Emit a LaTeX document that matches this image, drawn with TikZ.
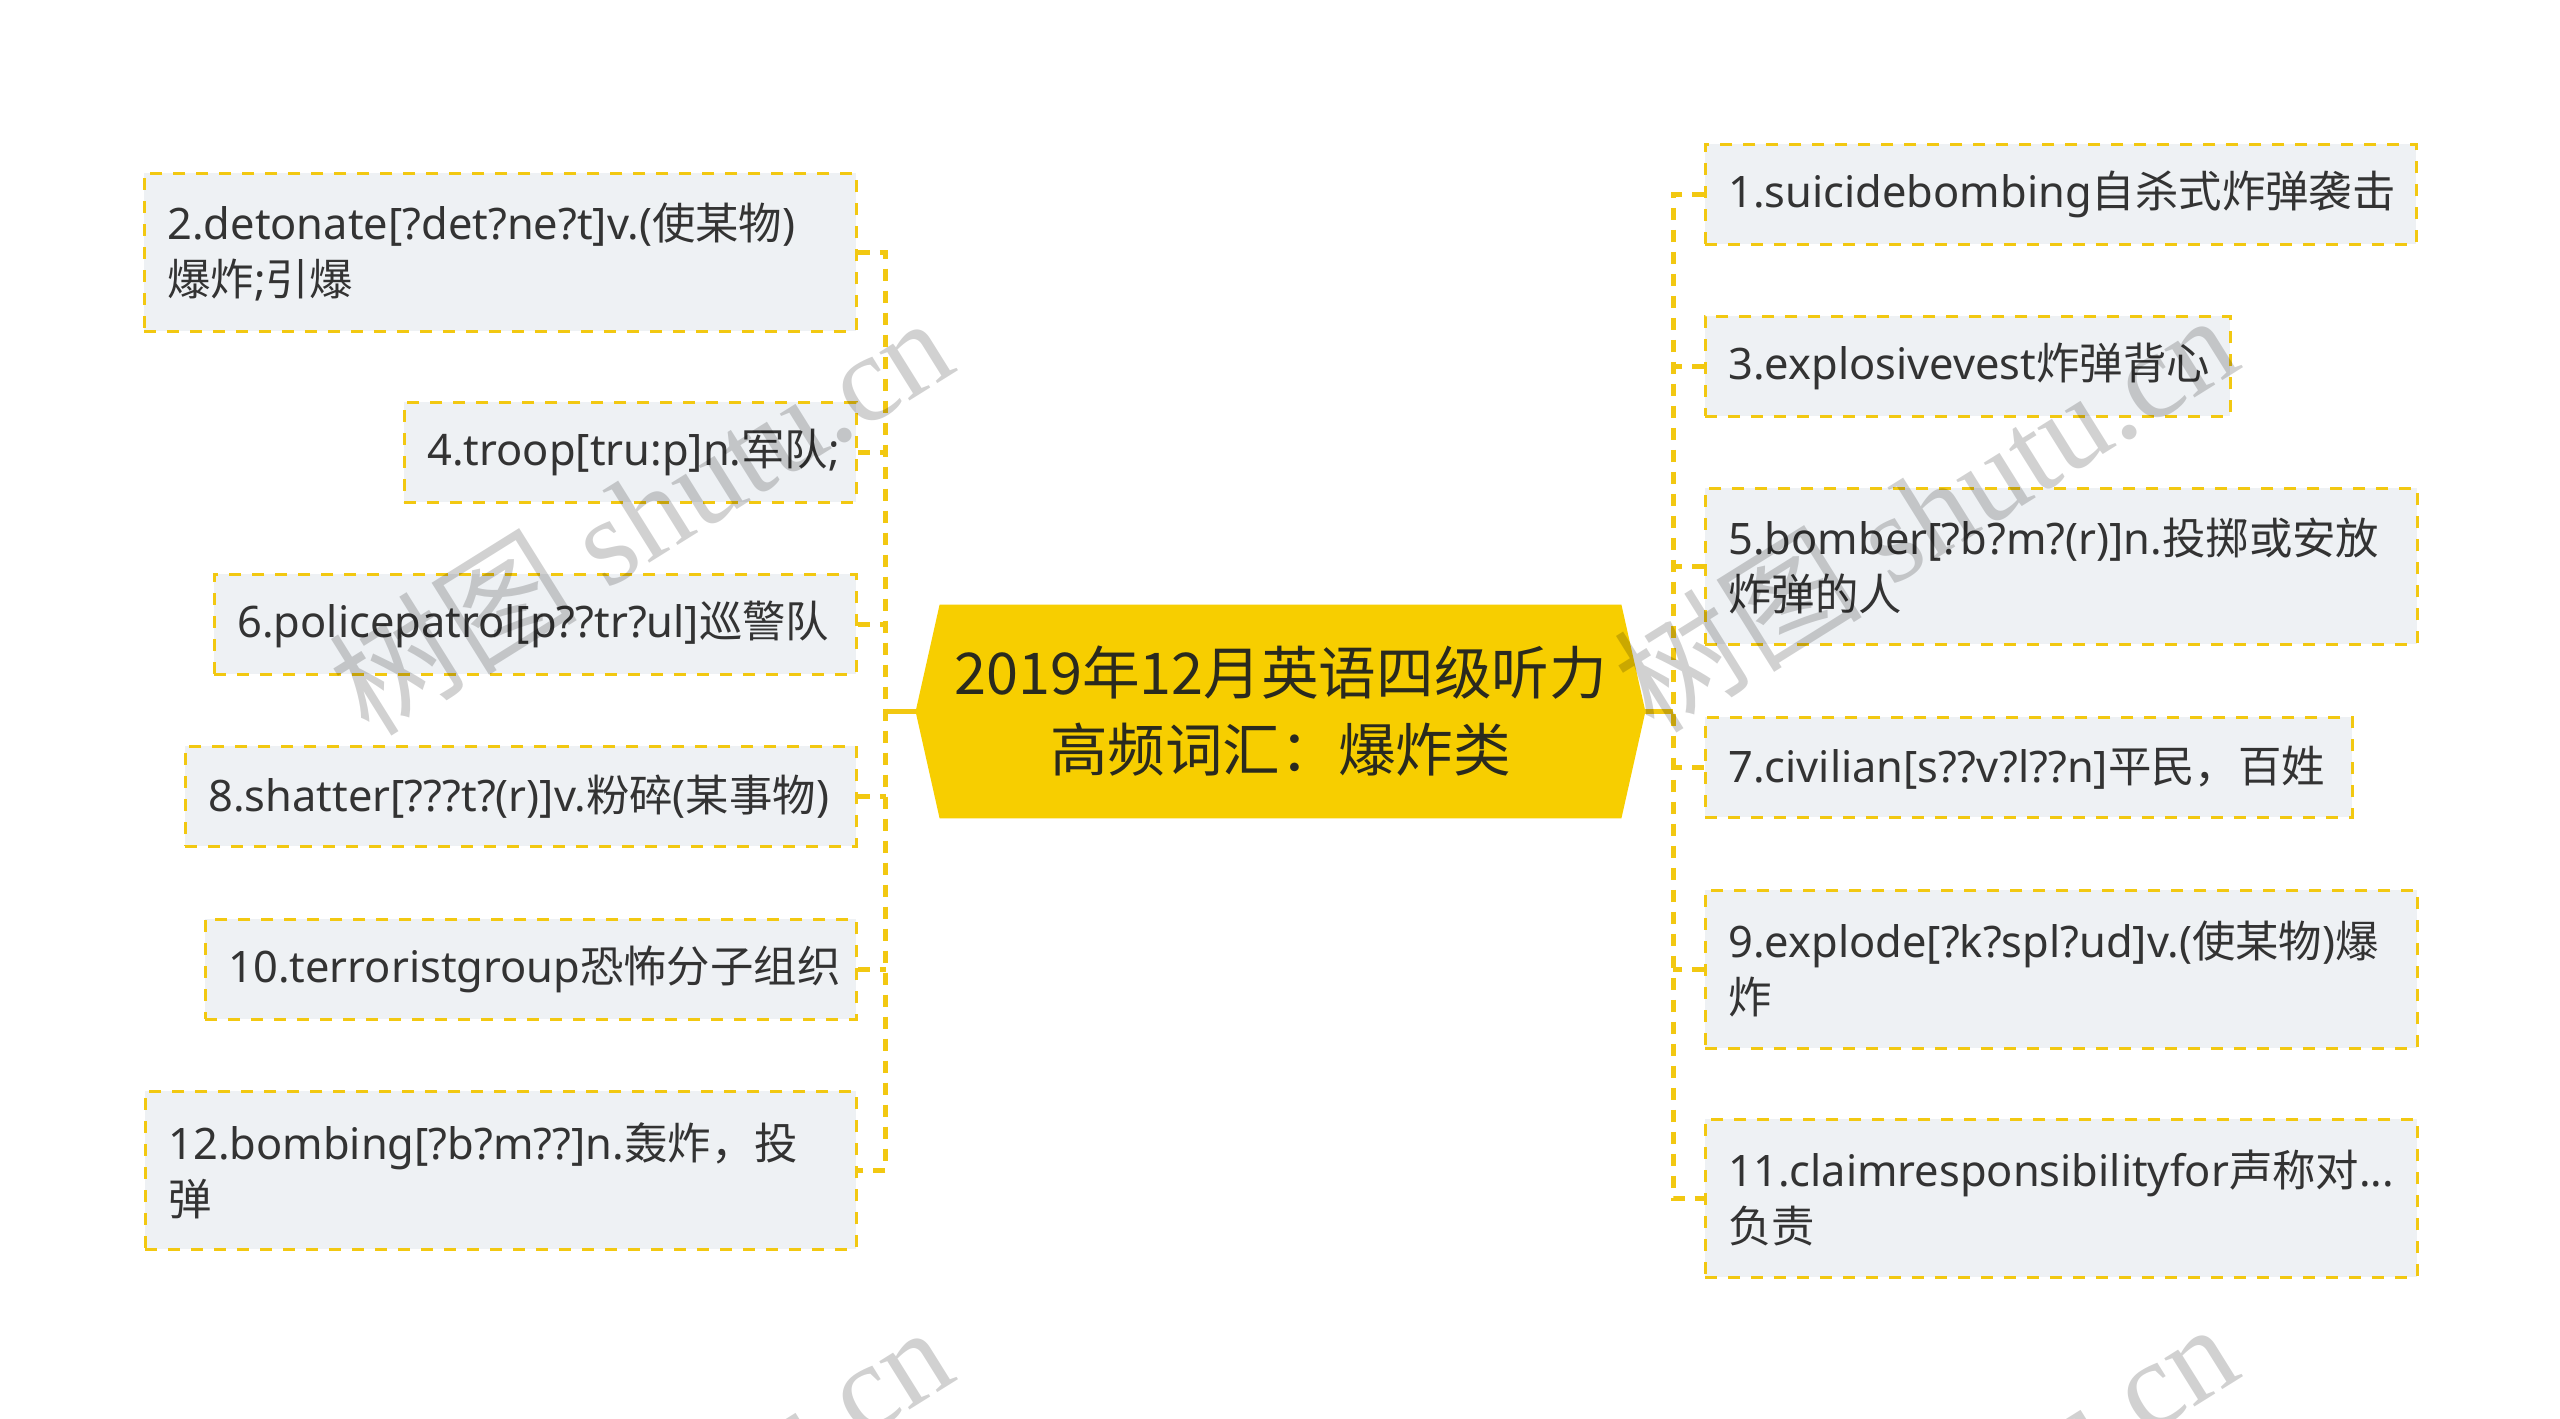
\documentclass[tikz,border=0pt]{standalone}
\usepackage{fontspec}
\setmainfont{Noto Sans}
\newfontfamily\cjk{Noto Sans CJK SC}
\newfontfamily\wmfont{Liberation Serif}
\usetikzlibrary{backgrounds}
\newcommand\C[1]{{\cjk #1}}
\definecolor{bordc}{HTML}{F2C811}
\definecolor{rootc}{HTML}{F7CE00}
\definecolor{boxc}{HTML}{EEF1F4}
\definecolor{textc}{HTML}{333333}
\definecolor{roottext}{HTML}{2A2A1E}
\begin{document}
\begin{tikzpicture}[x=0.5pt,y=-0.5pt,
  itembox/.style={draw=bordc, fill=boxc, dash pattern=on 6pt off 5.5pt, line width=1.4pt,
    anchor=north west, inner xsep=11.5pt, inner ysep=0pt, align=left,
    font=\fontsize{21.7}{28}\selectfont, text=textc},
  rootnode/.style={shape=rectangle, inner sep=0pt, minimum width=364.5pt, minimum height=106.5pt,
    align=center, font=\cjk\fontsize{28.8}{38.5}\selectfont, text=roottext},
  conn/.style={draw=bordc, line width=2.25pt, dash pattern=on 6pt off 5pt},
  solidconn/.style={draw=bordc, line width=2.25pt},
  wm/.style={font=\wmfont\fontsize{62}{62}\selectfont, text=black, opacity=0.18, rotate=32}
]
\useasboundingbox (0,0) rectangle (2560,1419);

% root
\node[rootnode] (root) at (1280.5,711.5) {\C{2019年12月英语四级听力}\\\C{高频词汇：爆炸类}};
\begin{scope}[on background layer]
  \fill[white] (0,0) rectangle (2560,1419);
  \fill[rootc] (root.west) -- ([xshift=12pt]root.north west) -- ([xshift=-12pt]root.north east)
    -- (root.east) -- ([xshift=-12pt]root.south east) -- ([xshift=12pt]root.south west) -- cycle;
\end{scope}

% left boxes
\node[itembox, text width=333pt, minimum height=79pt] (b2) at (143,172) {2.detonate[?det?ne?t]v.(\C{使某物})\\\C{爆炸};\C{引爆}};
\node[itembox, text width=203pt, minimum height=50pt] (b4) at (403,401) {4.troop[tru:p]n.\C{军队};};
\node[itembox, text width=298pt, minimum height=50pt] (b6) at (213,573) {6.policepatrol[p??tr?ul]\C{巡警队}};
\node[itembox, text width=312.5pt, minimum height=50pt] (b8) at (184,745) {8.shatter[???t?(r)]v.\C{粉碎}(\C{某事物})};
\node[itembox, text width=302.5pt, minimum height=50pt] (b10) at (204,918) {10.terroristgroup\C{恐怖分子组织}};
\node[itembox, text width=332.5pt, minimum height=79pt] (b12) at (144,1090) {12.bombing[?b?m??]n.\C{轰炸，投}\\\C{弹}};

% right boxes
\node[itembox, text width=332.5pt, minimum height=50pt] (b1) at (1704,143) {1.suicidebombing\C{自杀式炸弹袭击}};
\node[itembox, text width=239.5pt, minimum height=50pt] (b3) at (1704,315) {3.explosivevest\C{炸弹背心}};
\node[itembox, text width=333pt, minimum height=78pt] (b5) at (1704,487) {5.bomber[?b?m?(r)]n.\C{投掷或安放}\\\C{炸弹的人}};
\node[itembox, text width=300.5pt, minimum height=50pt] (b7) at (1704,716) {7.civilian[s??v?l??n]\C{平民，百姓}};
\node[itembox, text width=333pt, minimum height=79pt] (b9) at (1704,889) {9.explode[?k?spl?ud]v.(\C{使某物})\C{爆}\\\C{炸}};
\node[itembox, text width=333pt, minimum height=79pt] (b11) at (1704,1118) {11.claimresponsibilityfor\C{声称对}...\\\C{负责}};

% connectors left
\draw[solidconn] (root.west) -- ++(-30,0) coordinate (lt);
\draw[conn] (b2.east) -- (lt |- b2.east) -- (lt |- b12.east) -- (b12.east);
\foreach \n in {b4,b6,b8,b10} \draw[conn] (\n.east) -- (lt |- \n.east);

% connectors right
\draw[solidconn] (root.east) -- ++(28,0) coordinate (rt);
\draw[conn] (b1.west) -- (rt |- b1.west) -- (rt |- b11.west) -- (b11.west);
\foreach \n in {b3,b5,b7,b9} \draw[conn] (\n.west) -- (rt |- \n.west);

% watermarks
\begin{scope}
  \clip (0,0) rectangle (2560,1419);
  \node[wm] (wm1) at (640,514) {\C{树图} shutu.cn};
  \node[wm] (wm2) at (1925,511) {\C{树图} shutu.cn};
  \node[wm] (wm3) at (640,1523) {\C{树图} shutu.cn};
  \node[wm] (wm4) at (1925,1520) {\C{树图} shutu.cn};
\end{scope}
\end{tikzpicture}
\end{document}
